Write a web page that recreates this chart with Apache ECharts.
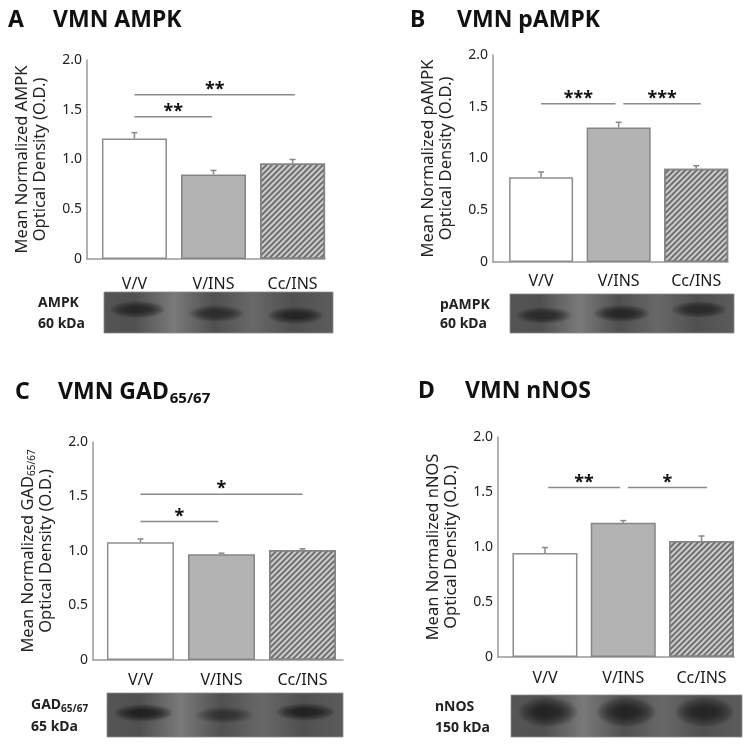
<!DOCTYPE html>
<html><head><meta charset="utf-8">
<script src="https://cdn.jsdelivr.net/npm/echarts@6/dist/echarts.min.js"></script>
<style>html,body{margin:0;padding:0;background:#fff}#c{width:750px;height:746px}</style>
</head><body><div id="c"></div>
<script>
// ---------- data ----------
const categories = ['V/V', 'V/INS', 'Cc/INS'];
const yTicks = [0, 0.5, 1.0, 1.5, 2.0];

const ampkMean = [1.21, 0.85, 0.96];
const ampkErr  = [0.06, 0.04, 0.04];
const pampkMean = [0.82, 1.30, 0.90];
const pampkErr  = [0.05, 0.05, 0.03];
const gadMean = [1.08, 0.97, 1.01];
const gadErr  = [0.03, 0.01, 0.01];
const nnosMean = [0.945, 1.22, 1.055];
const nnosErr  = [0.05, 0.02, 0.045];

// significance brackets: [fromCategory, toCategory, level, label]
const ampkSig  = [[0, 0.98, 1.43, '**'], [0, 2.03, 1.65, '**']];
const pampkSig = [[0, 0.96, 1.53, '***'], [1.06, 2.06, 1.53, '***']];
const gadSig   = [[0, 0.96, 1.27, '*'], [0, 2.0, 1.52, '*']];
const nnosSig  = [[0.04, 0.96, 1.54, '**'], [1.06, 2.07, 1.54, '*']];

// western blot band darkness per lane
const ampkBand  = [0.8, 0.7, 0.85];
const pampkBand = [0.75, 0.85, 0.75];
const gadBand   = [0.95, 0.5, 0.9];
const nnosBand  = [0.85, 0.85, 0.8];

// ---------- layout / style ----------
const FONT = '"Noto Sans", "DejaVu Sans", sans-serif';
const panels = [
  { letter: 'A', title: 'VMN AMPK', sub: '', mean: ampkMean, err: ampkErr, sig: ampkSig, band: ampkBand,
    grid: { left: 87, top: 60, width: 238, height: 199 }, xMin: -0.6, xMax: 2.41, barW: 65, labMargin: 17,
    yName: '{n|Mean Normalized AMPK}\n{n|Optical Density (O.D.)}',
    letterX: 8, titleX: 53, titleY: 20,
    blot: { x: 104, y: 292, w: 229, h: 41 }, blotLab: ['AMPK', '60 kDa'], blotLabX: 38, blotDy: [-3, 1, 3], bandRy: 5, bandRx: 19 },
  { letter: 'B', title: 'VMN pAMPK', sub: '', mean: pampkMean, err: pampkErr, sig: pampkSig, band: pampkBand,
    grid: { left: 493, top: 55, width: 235, height: 207 }, xMin: -0.62, xMax: 2.41, barW: 64, labMargin: 11,
    yName: '{n|Mean Normalized pAMPK}\n{n|Optical Density (O.D.)}',
    letterX: 410, titleX: 457, titleY: 20,
    blot: { x: 510, y: 294, w: 224, h: 39 }, blotLab: ['pAMPK', '60 kDa'], blotLabX: 440, blotDy: [2, 0, -4], bandRy: 5, bandRx: 19 },
  { letter: 'C', title: 'VMN GAD', sub: '65/67', mean: gadMean, err: gadErr, sig: gadSig, band: gadBand,
    grid: { left: 93, top: 442, width: 250, height: 218 }, xMin: -0.586, xMax: 2.5, barW: 67, labMargin: 12,
    yName: '{n|Mean Normalized GAD}{s|65/67}\n{n|Optical Density (O.D.)}',
    letterX: 15, titleX: 58, titleY: 392,
    blot: { x: 107, y: 693, w: 236, h: 44 }, blotLab: ['GAD', '65 kDa'], blotLabX: 31, blotDy: [-2, 0, -3], bandRy: 5, bandRx: 20 },
  { letter: 'D', title: 'VMN nNOS', sub: '', mean: nnosMean, err: nnosErr, sig: nnosSig, band: nnosBand,
    grid: { left: 498, top: 437, width: 236, height: 220 }, xMin: -0.6, xMax: 2.415, barW: 65, labMargin: 13,
    yName: '{n|Mean Normalized nNOS}\n{n|Optical Density (O.D.)}',
    letterX: 418, titleX: 465, titleY: 391,
    blot: { x: 511, y: 695, w: 231, h: 42 }, blotLab: ['nNOS', '150 kDa'], blotLabX: 435, blotDy: [-4, -4, -4], bandRy: 9, bandRx: 20 }
];

const barStyles = [
  { color: '#ffffff', borderColor: '#8e8e8e', borderWidth: 1.5 },
  { color: '#b3b3b3', borderColor: '#858585', borderWidth: 1.5 },
  { color: '#cdcdcd', borderColor: '#858585', borderWidth: 1.5,
    decal: { symbol: 'rect', symbolSize: 1, color: '#6f6f6f', dashArrayX: [1, 0], dashArrayY: [2, 2], rotation: -Math.PI / 4 } }
];

const grids = [], xAxes = [], yAxes = [], series = [];
panels.forEach((p, i) => {
  grids.push(Object.assign({}, p.grid));
  xAxes.push({
    type: 'value', gridIndex: i, min: p.xMin, max: p.xMax,
    axisLine: { show: true, onZero: false, lineStyle: { color: '#9a9a9a', width: 1.5 } },
    axisTick: { show: false }, splitLine: { show: false },
    axisLabel: { customValues: [0, 1, 2], formatter: v => categories[Math.round(v)], margin: p.labMargin,
      fontSize: 16, color: '#1a1a1a', fontFamily: FONT }
  });
  yAxes.push({
    type: 'value', gridIndex: i, min: 0, max: 2, interval: 0.5,
    axisLine: { show: true, onZero: false, lineStyle: { color: '#9a9a9a', width: 1.5 } },
    axisTick: { show: false }, splitLine: { show: false },
    axisLabel: { customValues: yTicks, formatter: v => (v === 0 ? '0' : v.toFixed(1)), margin: 5,
      fontSize: 14, color: '#222', fontFamily: FONT },
    name: p.yName, nameLocation: 'middle', nameGap: 38, nameRotate: 90,
    nameTextStyle: { lineHeight: 18, rich: {
      n: { fontSize: 16.5, color: '#222', fontFamily: FONT, lineHeight: 18, verticalAlign: 'bottom' },
      s: { fontSize: 10, color: '#222', fontFamily: FONT, lineHeight: 18, verticalAlign: 'bottom' } } }
  });
  series.push({
    type: 'bar', xAxisIndex: i, yAxisIndex: i, barWidth: p.barW,
    data: p.mean.map((v, k) => ({ value: [k, v], itemStyle: barStyles[k] })),
    silent: true, z: 2
  });
  series.push({
    type: 'custom', xAxisIndex: i, yAxisIndex: i, z: 3, silent: true,
    data: p.mean.map((v, k) => [k, v, p.err[k]]),
    encode: { x: 0, y: 1 },
    renderItem: (params, api) => {
      const x = api.value(0), m = api.value(1), e = api.value(2);
      const a = api.coord([x, m]), b = api.coord([x, m + e]);
      return { type: 'group', children: [
        { type: 'line', shape: { x1: a[0], y1: a[1], x2: b[0], y2: b[1] }, style: { stroke: '#888', lineWidth: 1.5 } },
        { type: 'line', shape: { x1: b[0] - 3, y1: b[1], x2: b[0] + 3, y2: b[1] }, style: { stroke: '#888', lineWidth: 1.5 } }
      ] };
    }
  });
  series.push({
    type: 'custom', xAxisIndex: i, yAxisIndex: i, z: 3, silent: true,
    data: p.sig.map(s => [s[0], s[1], s[2]]),
    encode: { x: [0, 1], y: 2 },
    renderItem: (params, api) => {
      const a = api.coord([api.value(0), api.value(2)]);
      const b = api.coord([api.value(1), api.value(2)]);
      const lbl = p.sig[params.dataIndex][3];
      return { type: 'group', children: [
        { type: 'line', shape: { x1: a[0], y1: a[1], x2: b[0], y2: b[1] }, style: { stroke: '#8a8a8a', lineWidth: 1.5 } },
        { type: 'text', style: { text: lbl, x: (a[0] + b[0]) / 2, y: a[1] + 4, align: 'center', verticalAlign: 'bottom',
          font: 'bold 18px ' + FONT, fill: '#111' } }
      ] };
    }
  });
});

const chart = echarts.init(document.getElementById('c'), null, { renderer: 'canvas' });
chart.setOption({
  backgroundColor: '#fff', animation: false,
  grid: grids, xAxis: xAxes, yAxis: yAxes, series: series
});

// ---------- titles and blots ----------
const TFONT = 'bold 23px ' + FONT;
const graphics = [];
panels.forEach((p, i) => {
  graphics.push({ type: 'text', style: { text: p.letter, x: p.letterX, y: p.titleY, verticalAlign: 'middle',
    font: TFONT, fill: '#111' } });
  graphics.push({ type: 'text', style: { text: p.title, x: p.titleX, y: p.titleY, verticalAlign: 'middle',
    font: TFONT, fill: '#111' } });
  if (p.sub) {
    const w = echarts.format.getTextRect ? echarts.format.getTextRect(p.title, TFONT).width : 122;
    graphics.push({ type: 'text', style: { text: p.sub, x: p.titleX + w + 1, y: p.titleY + 7, verticalAlign: 'middle',
      font: 'bold 15px ' + FONT, fill: '#111' } });
  }
  // blot
  const bl = p.blot;
  const lanes = [0, 1, 2].map(k => chart.convertToPixel({ xAxisIndex: i }, k));
  const stops = [{ offset: 0, color: '#555' }];
  lanes.forEach((lx, k) => {
    stops.push({ offset: Math.min(1, Math.max(0, (lx - bl.x) / bl.w)), color: '#505050' });
    if (k < 2) {
      const mid = (lx + lanes[k + 1]) / 2;
      stops.push({ offset: (mid - bl.x) / bl.w, color: k === 0 ? '#7a7a7a' : '#686868' });
    }
  });
  stops.push({ offset: 1, color: '#5c5c5c' });
  graphics.push({ type: 'rect', shape: { x: bl.x, y: bl.y, width: bl.w, height: bl.h },
    style: { fill: { type: 'linear', x: 0, y: 0, x2: 1, y2: 0, colorStops: stops }, stroke: '#8a8a8a', lineWidth: 0.8 } });
  lanes.forEach((lx, k) => {
    const d = p.band[k];
    const cy = bl.y + bl.h / 2 + p.blotDy[k];
    // layered soft ellipses to mimic a blurred band
    const layers = 8;
    for (let L = 0; L < layers; L++) {
      const t = 1 - L / layers;              // 1 .. 0.125
      const sx = 0.55 + 0.9 * t, sy = 0.4 + 1.2 * t;
      graphics.push({ type: 'ellipse',
        shape: { cx: lx + 3, cy: cy, rx: p.bandRx * sx, ry: p.bandRy * sy },
        style: { fill: 'rgba(20,20,20,' + (0.13 * d) + ')', shadowBlur: 8, shadowColor: 'rgba(20,20,20,' + (0.13 * d) + ')' } });
    }
  });
  // blot labels
  const ly1 = bl.y + bl.h * 0.28, ly2 = bl.y + bl.h * 0.78;
  graphics.push({ type: 'text', style: { text: p.blotLab[0], x: p.blotLabX, y: ly1, verticalAlign: 'middle',
    font: 'bold 14px ' + FONT, fill: '#222' } });
  if (p.sub) {
    const w2 = echarts.format.getTextRect ? echarts.format.getTextRect(p.blotLab[0], 'bold 14px ' + FONT).width : 32;
    graphics.push({ type: 'text', style: { text: p.sub, x: p.blotLabX + w2, y: ly1 + 4, verticalAlign: 'middle',
      font: 'bold 10px ' + FONT, fill: '#222' } });
  }
  graphics.push({ type: 'text', style: { text: p.blotLab[1], x: p.blotLabX, y: ly2, verticalAlign: 'middle',
    font: 'bold 14px ' + FONT, fill: '#222' } });
});
chart.setOption({ graphic: graphics });
</script>
</body></html>
